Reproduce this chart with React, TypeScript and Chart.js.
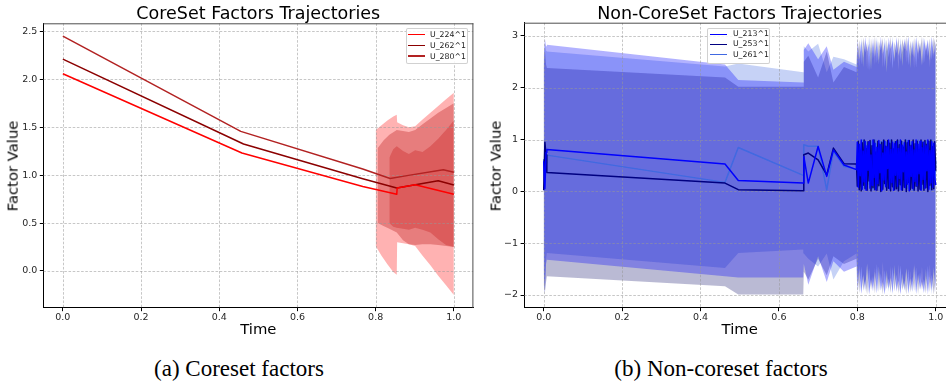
import React, { useEffect, useRef } from 'react';
import { Chart, registerables } from 'chart.js';

Chart.register(...registerables);

const SANS = '"DejaVu Sans", "Liberation Sans", sans-serif';
const SERIF = '"Liberation Serif", "Times New Roman", serif';

// ---------- ticks ----------
const X_TICKS = [0, 0.2, 0.4, 0.6, 0.8, 1.0];
const CORE_Y_TICKS = [0, 0.5, 1.0, 1.5, 2.0, 2.5];
const NONCORE_Y_TICKS = [-2, -1, 0, 1, 2, 3];

// ---------- (a) CoreSet factors ----------
const CORE_LABELS = ['U_224^1', 'U_262^1', 'U_280^1'];
const CORE_COLORS = ['#ff0000', '#8b0000', '#b22222'];
const CORE_FILLS = ['rgba(255,0,0,0.3)', 'rgba(139,0,0,0.3)', 'rgba(178,34,34,0.3)'];

const CORE_T_224 = [0, 0.458, 0.767, 0.854, 0.855, 0.901, 1.0];
const CORE_V_224 = [2.057, 1.23, 0.882, 0.80, 0.865, 0.90, 0.80];
const CORE_T_262 = [0, 0.462, 0.767, 0.854, 0.96, 1.0];
const CORE_V_262 = [2.21, 1.324, 0.962, 0.865, 0.94, 0.897];
const CORE_T_280 = [0, 0.455, 0.767, 0.837, 0.884, 0.973, 1.0];
const CORE_V_280 = [2.45, 1.456, 1.063, 0.965, 0.997, 1.056, 1.03];

const CORE_BAND_T_224 = [0.800, 0.815, 0.830, 0.845, 0.854, 0.855, 0.870, 0.885, 0.901, 0.920, 0.940, 0.960, 0.980, 1.000];
const CORE_BAND_HI_224 = [1.47, 1.52, 1.57, 1.61, 1.63, 1.55, 1.52, 1.50, 1.51, 1.58, 1.65, 1.72, 1.79, 1.86];
const CORE_BAND_LO_224 = [0.26, 0.16, 0.07, -0.01, -0.04, 0.30, 0.29, 0.28, 0.26, 0.16, 0.06, -0.05, -0.15, -0.25];

const CORE_BAND_T_262 = [0.805, 0.820, 0.835, 0.854, 0.870, 0.885, 0.901, 0.920, 0.940, 0.960, 0.980, 1.000];
const CORE_BAND_HI_262 = [1.28, 1.36, 1.42, 1.47, 1.46, 1.45, 1.47, 1.53, 1.59, 1.65, 1.70, 1.75];
const CORE_BAND_LO_262 = [0.50, 0.47, 0.44, 0.40, 0.32, 0.28, 0.27, 0.28, 0.28, 0.27, 0.26, 0.25];

const CORE_BAND_T_280 = [0.835, 0.845, 0.854, 0.870, 0.885, 0.901, 0.920, 0.940, 0.960, 0.980, 1.000];
const CORE_BAND_HI_280 = [1.18, 1.27, 1.30, 1.25, 1.22, 1.26, 1.24, 1.30, 1.38, 1.47, 1.57];
const CORE_BAND_LO_280 = [0.50, 0.46, 0.45, 0.44, 0.43, 0.45, 0.43, 0.40, 0.33, 0.27, 0.25];

// ---------- (b) Non-CoreSet factors ----------
const NC_LABELS = ['U_213^1', 'U_253^1', 'U_261^1'];
const NC_COLORS = ['#0000ff', '#000080', '#4169e1'];
const NC_FILLS = ['rgba(0,0,255,0.3)', 'rgba(25,25,112,0.3)', 'rgba(65,105,225,0.3)'];

const NC_T_SPARSE = [0.000, 0.003, 0.006, 0.008, 0.4625, 0.4964, 0.6622, 0.6635, 0.675, 0.700, 0.722, 0.739, 0.766, 0.798];
const NC_T_DENSE = [0.800, 0.805, 0.810, 0.815, 0.820, 0.825, 0.830, 0.835, 0.840, 0.845, 0.850, 0.855, 0.860, 0.865, 0.870, 0.875, 0.880, 0.885, 0.890, 0.895, 0.900, 0.905, 0.910, 0.915, 0.920, 0.925, 0.930, 0.935, 0.940, 0.945, 0.950, 0.955, 0.960, 0.965, 0.970, 0.975, 0.980, 0.985, 0.990, 0.995, 1.000];
const NC_T_DENSE_LINE = [
  0.8000, 0.8025, 0.8050, 0.8075, 0.8100, 0.8125, 0.8150, 0.8175, 0.8200, 0.8225,
  0.8250, 0.8275, 0.8300, 0.8325, 0.8350, 0.8375, 0.8400, 0.8425, 0.8450, 0.8475,
  0.8500, 0.8525, 0.8550, 0.8575, 0.8600, 0.8625, 0.8650, 0.8675, 0.8700, 0.8725,
  0.8750, 0.8775, 0.8800, 0.8825, 0.8850, 0.8875, 0.8900, 0.8925, 0.8950, 0.8975,
  0.9000, 0.9025, 0.9050, 0.9075, 0.9100, 0.9125, 0.9150, 0.9175, 0.9200, 0.9225,
  0.9250, 0.9275, 0.9300, 0.9325, 0.9350, 0.9375, 0.9400, 0.9425, 0.9450, 0.9475,
  0.9500, 0.9525, 0.9550, 0.9575, 0.9600, 0.9625, 0.9650, 0.9675, 0.9700, 0.9725,
  0.9750, 0.9775, 0.9800, 0.9825, 0.9850, 0.9875, 0.9900, 0.9925, 0.9950, 0.9975,
  1.0000];

const NC_V_213_S = [0.58, 0.05, 0.75, 0.81, 0.527, 0.212, 0.16, 0.674, 0.16, 0.867, 0.29, 0.80, 0.51, 0.42];
const NC_V_253_S = [0.02, 0.95, 0.70, 0.366, 0.161, 0.033, 0.013, 0.707, 0.74, 0.61, 0.32, 0.836, 0.534, 0.53];
const NC_V_261_S = [0.62, 0.10, 0.55, 0.70, 0.174, 0.848, 0.31, 0.90, 0.87, 0.87, 0.03, 0.77, 0.48, 0.43];

const NC_V_213_D = [
  0.95, 0.08, 0.91, 0.30, 0.99, 0.04, 0.78, 0.18, 0.97, 0.02,
  0.88, 0.41, 0.96, 0.06, 0.70, 0.12, 0.99, 0.27, 0.93, 0.03,
  0.85, 0.15, 0.98, 0.36, 0.90, 0.01, 0.74, 0.22, 0.97, 0.09,
  0.86, 0.44, 0.99, 0.05, 0.81, 0.17, 0.95, 0.02, 0.92, 0.31,
  0.97, 0.10, 0.83, 0.25, 0.99, 0.03, 0.89, 0.38, 0.94, 0.07,
  0.76, 0.14, 0.98, 0.01, 0.87, 0.29, 0.96, 0.05, 0.80, 0.19,
  0.99, 0.11, 0.91, 0.34, 0.97, 0.02, 0.84, 0.23, 0.95, 0.06,
  0.88, 0.40, 0.99, 0.04, 0.79, 0.16, 0.96, 0.08, 0.93, 0.27,
  0.12];
const NC_V_253_D = [
  0.10, 0.97, 0.03, 0.62, 0.01, 0.94, 0.12, 0.99, 0.05, 0.83,
  0.02, 0.96, 0.20, 0.98, 0.01, 0.88, 0.07, 0.99, 0.03, 0.76,
  0.02, 0.97, 0.11, 0.91, 0.00, 0.95, 0.04, 0.99, 0.15, 0.87,
  0.02, 0.98, 0.06, 0.93, 0.01, 0.99, 0.09, 0.82, 0.03, 0.96,
  0.05, 0.99, 0.01, 0.90, 0.13, 0.97, 0.02, 0.85, 0.08, 0.99,
  0.00, 0.94, 0.17, 0.98, 0.03, 0.89, 0.06, 0.99, 0.02, 0.92,
  0.10, 0.97, 0.01, 0.80, 0.04, 0.99, 0.14, 0.95, 0.02, 0.98,
  0.07, 0.91, 0.00, 0.97, 0.12, 0.99, 0.03, 0.86, 0.05, 0.96,
  0.40];
const NC_V_261_D = [
  0.55, 0.21, 0.86, 0.10, 0.93, 0.38, 0.99, 0.07, 0.80, 0.25,
  0.95, 0.14, 0.90, 0.33, 0.97, 0.05, 0.84, 0.19, 0.99, 0.28,
  0.92, 0.08, 0.87, 0.16, 0.96, 0.35, 0.98, 0.11, 0.79, 0.24,
  0.94, 0.06, 0.89, 0.30, 0.99, 0.13, 0.85, 0.20, 0.97, 0.09,
  0.91, 0.37, 0.98, 0.04, 0.83, 0.22, 0.96, 0.12, 0.88, 0.31,
  0.99, 0.06, 0.82, 0.26, 0.95, 0.15, 0.97, 0.02, 0.86, 0.34,
  0.93, 0.09, 0.99, 0.18, 0.81, 0.27, 0.96, 0.05, 0.90, 0.21,
  0.98, 0.13, 0.87, 0.36, 0.94, 0.03, 0.99, 0.17, 0.84, 0.24,
  0.60];

const NC_HI_213_S = [2.60, 2.95, 2.80, 2.83, 2.45, 2.15, 2.10, 2.73, 2.86, 2.55, 2.80, 2.35, 2.50, 2.40];
const NC_LO_213_S = [-1.50, -1.99, -1.40, -1.32, -1.64, -1.66, -1.66, -1.40, -1.80, -1.25, -1.75, -1.35, -1.55, -1.45];
const NC_HI_253_S = [2.40, 2.75, 2.45, 2.38, 2.20, 2.02, 2.02, 2.50, 2.62, 2.20, 2.70, 2.10, 2.40, 2.30];
const NC_LO_253_S = [-1.80, -1.95, -1.75, -1.64, -1.83, -1.99, -1.99, -1.55, -1.70, -1.30, -1.62, -1.25, -1.40, -1.30];
const NC_HI_261_S = [2.50, 2.85, 2.72, 2.70, 2.41, 2.47, 2.30, 2.80, 2.70, 2.85, 2.30, 2.60, 2.55, 2.45];
const NC_LO_261_S = [-1.60, -1.90, -1.30, -1.19, -1.48, -1.19, -1.12, -1.20, -1.30, -1.45, -1.20, -1.70, -1.35, -1.20];

const NC_HI_213_D = [2.95, 2.55, 2.90, 2.40, 2.98, 2.70, 2.85, 2.35, 2.96, 2.60, 2.92, 2.45, 2.99, 2.65, 2.88, 2.30, 2.97, 2.75, 2.91, 2.50, 2.98, 2.62, 2.86, 2.42, 2.95, 2.70, 2.99, 2.38, 2.90, 2.58, 2.97, 2.66, 2.87, 2.44, 2.96, 2.72, 2.93, 2.52, 2.98, 2.64, 2.90];
const NC_LO_213_D = [-1.95, -1.50, -1.98, -1.62, -1.90, -1.40, -1.99, -1.70, -1.93, -1.55, -1.97, -1.45, -1.92, -1.75, -1.99, -1.52, -1.88, -1.66, -1.96, -1.42, -1.94, -1.72, -1.99, -1.58, -1.91, -1.48, -1.97, -1.68, -1.93, -1.44, -1.98, -1.60, -1.90, -1.74, -1.96, -1.50, -1.99, -1.64, -1.92, -1.46, -1.95];
const NC_HI_253_D = [2.60, 2.92, 2.45, 2.97, 2.68, 2.88, 2.33, 2.95, 2.55, 2.99, 2.48, 2.90, 2.72, 2.96, 2.40, 2.93, 2.58, 2.99, 2.36, 2.89, 2.66, 2.97, 2.50, 2.94, 2.74, 2.98, 2.43, 2.91, 2.63, 2.96, 2.39, 2.92, 2.70, 2.99, 2.47, 2.88, 2.61, 2.95, 2.54, 2.97, 2.80];
const NC_LO_253_D = [-1.55, -1.96, -1.45, -1.92, -1.70, -1.99, -1.48, -1.90, -1.63, -1.97, -1.40, -1.94, -1.58, -1.99, -1.52, -1.89, -1.68, -1.96, -1.46, -1.93, -1.60, -1.98, -1.43, -1.91, -1.72, -1.99, -1.50, -1.95, -1.65, -1.92, -1.47, -1.98, -1.56, -1.90, -1.69, -1.97, -1.44, -1.94, -1.61, -1.99, -1.70];
const NC_HI_261_D = [2.78, 2.40, 2.96, 2.58, 2.91, 2.36, 2.99, 2.66, 2.87, 2.44, 2.98, 2.52, 2.93, 2.38, 2.97, 2.70, 2.89, 2.46, 2.99, 2.56, 2.94, 2.34, 2.96, 2.68, 2.90, 2.48, 2.98, 2.60, 2.92, 2.37, 2.99, 2.54, 2.88, 2.42, 2.97, 2.62, 2.91, 2.39, 2.98, 2.57, 2.85];
const NC_LO_261_D = [-1.80, -1.42, -1.97, -1.58, -1.93, -1.38, -1.99, -1.65, -1.88, -1.47, -1.96, -1.54, -1.91, -1.36, -1.98, -1.62, -1.94, -1.44, -1.99, -1.57, -1.90, -1.40, -1.97, -1.67, -1.92, -1.49, -1.99, -1.53, -1.95, -1.39, -1.98, -1.60, -1.89, -1.45, -1.96, -1.63, -1.93, -1.41, -1.99, -1.55, -1.85];

// ---------- helpers ----------
const pts = (xs: number[], ys: number[]) => xs.map((x, i) => ({ x, y: ys[i] }));

function lineSet(label: string, xs: number[], ys: number[], color: string, width = 1.5) {
  return {
    label, data: pts(xs, ys), borderColor: color, backgroundColor: color,
    borderWidth: width, pointRadius: 0, pointHoverRadius: 0, fill: false, tension: 0,
    borderJoinStyle: 'round',
  };
}

function bandSets(xs: number[], lo: number[], hi: number[], color: string) {
  return [
    { label: '_lo', data: pts(xs, lo), borderColor: 'rgba(0,0,0,0)', backgroundColor: 'rgba(0,0,0,0)', borderWidth: 0, pointRadius: 0, fill: false, tension: 0 },
    { label: '_hi', data: pts(xs, hi), borderColor: 'rgba(0,0,0,0)', backgroundColor: color, borderWidth: 0, pointRadius: 0, fill: '-1', tension: 0 },
  ];
}

const gridFramePlugin = {
  id: 'gridFrame',
  beforeDatasetsDraw(chart: any) {
    const { ctx, chartArea: a } = chart;
    const xs = chart.scales.x, ys = chart.scales.y;
    ctx.save();
    ctx.beginPath();
    ctx.rect(a.left, a.top, a.right - a.left, a.bottom - a.top);
    ctx.clip();
    ctx.strokeStyle = 'rgba(150,150,150,0.6)';
    ctx.lineWidth = 0.9;
    ctx.setLineDash([2.6, 1.6]);
    xs.ticks.forEach((t: any) => {
      const x = Math.round(xs.getPixelForValue(t.value)) + 0.5;
      ctx.beginPath(); ctx.moveTo(x, a.top); ctx.lineTo(x, a.bottom); ctx.stroke();
    });
    ys.ticks.forEach((t: any) => {
      const y = Math.round(ys.getPixelForValue(t.value)) + 0.5;
      ctx.beginPath(); ctx.moveTo(a.left, y); ctx.lineTo(a.right, y); ctx.stroke();
    });
    ctx.restore();
  },
  afterDatasetsDraw(chart: any) {
    const { ctx, chartArea: a } = chart;
    ctx.save();
    ctx.setLineDash([]);
    ctx.strokeStyle = '#4d4d4d';
    ctx.lineWidth = 1;
    ctx.beginPath();
    ctx.moveTo(a.left, a.top + 0.5); ctx.lineTo(a.right, a.top + 0.5);
    ctx.moveTo(a.right - 0.5, a.top); ctx.lineTo(a.right - 0.5, a.bottom);
    ctx.stroke();
    ctx.restore();
  },
};

function buildConfig(datasets: any[], yMin: number, yMax: number, yTicks: number[], yFmt: (v: number) => string, geom: any) {
  const tickFont = { family: SANS, size: 9.5 };
  return {
    type: 'line',
    data: { datasets },
    options: {
      responsive: false, maintainAspectRatio: false, animation: false, devicePixelRatio: 1,
      events: [],
      layout: { padding: { top: geom.top, right: geom.right, left: 0, bottom: 0 }, autoPadding: false },
      plugins: {
        legend: { display: false }, tooltip: { enabled: false }, title: { display: false },
        filler: { drawTime: 'beforeDatasetsDraw', propagate: false },
      },
      scales: {
        x: {
          type: 'linear', min: -0.05, max: 1.05,
          afterBuildTicks: (s: any) => { s.ticks = X_TICKS.map((v) => ({ value: v })); },
          afterFit: (s: any) => { s.height = geom.xh; },
          ticks: { callback: (v: any) => Number(v).toFixed(1), font: tickFont, color: '#262626', padding: 0.7, autoSkip: false, maxRotation: 0, minRotation: 0 },
          grid: { drawOnChartArea: false, drawTicks: true, tickLength: 3.5, tickColor: '#000', tickWidth: 1 },
          border: { display: true, color: '#000', width: 1 },
        },
        y: {
          type: 'linear', min: yMin, max: yMax,
          afterBuildTicks: (s: any) => { s.ticks = yTicks.map((v) => ({ value: v })); },
          afterFit: (s: any) => { s.width = geom.yw; },
          ticks: { callback: (v: any) => yFmt(Number(v)), font: tickFont, color: '#262626', padding: 2.5, autoSkip: false },
          grid: { drawOnChartArea: false, drawTicks: true, tickLength: 3.5, tickColor: '#000', tickWidth: 1 },
          border: { display: true, color: '#000', width: 1 },
        },
      },
    },
    plugins: [gridFramePlugin],
  };
}

function coreConfig() {
  const ds: any[] = [
    lineSet(CORE_LABELS[0], CORE_T_224, CORE_V_224, CORE_COLORS[0]),
    lineSet(CORE_LABELS[1], CORE_T_262, CORE_V_262, CORE_COLORS[1]),
    lineSet(CORE_LABELS[2], CORE_T_280, CORE_V_280, CORE_COLORS[2]),
    ...bandSets(CORE_BAND_T_224, CORE_BAND_LO_224, CORE_BAND_HI_224, CORE_FILLS[0]),
    ...bandSets(CORE_BAND_T_262, CORE_BAND_LO_262, CORE_BAND_HI_262, CORE_FILLS[1]),
    ...bandSets(CORE_BAND_T_280, CORE_BAND_LO_280, CORE_BAND_HI_280, CORE_FILLS[2]),
  ];
  return buildConfig(ds, -0.383, 2.583, CORE_Y_TICKS, (v) => v.toFixed(1),
    { top: 23.3, right: 6.6, yw: 43.3, xh: 22.3 });
}

function nonCoreConfig() {
  const TL = [...NC_T_SPARSE, ...NC_T_DENSE_LINE];
  const TB = [...NC_T_SPARSE, ...NC_T_DENSE];
  const ds: any[] = [
    lineSet(NC_LABELS[0], TL, [...NC_V_213_S, ...NC_V_213_D], NC_COLORS[0]),
    lineSet(NC_LABELS[1], TL, [...NC_V_253_S, ...NC_V_253_D], NC_COLORS[1]),
    lineSet(NC_LABELS[2], TL, [...NC_V_261_S, ...NC_V_261_D], NC_COLORS[2]),
    ...bandSets(TB, [...NC_LO_213_S, ...NC_LO_213_D], [...NC_HI_213_S, ...NC_HI_213_D], NC_FILLS[0]),
    ...bandSets(TB, [...NC_LO_253_S, ...NC_LO_253_D], [...NC_HI_253_S, ...NC_HI_253_D], NC_FILLS[1]),
    ...bandSets(TB, [...NC_LO_261_S, ...NC_LO_261_D], [...NC_HI_261_S, ...NC_HI_261_D], NC_FILLS[2]),
  ];
  return buildConfig(ds, -2.245, 3.256, NONCORE_Y_TICKS,
    (v) => (v < 0 ? '\u2212' + Math.abs(v) : String(v)),
    { top: 22.7, right: 4.7, yw: 44.1, xh: 22.3 });
}

function ChartCanvas({ left, width, height, make }: any) {
  const ref = useRef<HTMLCanvasElement>(null);
  useEffect(() => {
    const chart = new Chart(ref.current as any, make());
    return () => chart.destroy();
  }, []);
  return <canvas ref={ref} width={width} height={height}
    style={{ position: 'absolute', left, top: 0, width, height }} />;
}

function Txt({ x, baseline, size, family = SANS, ratio = 0.846, children }: any) {
  return (
    <div style={{
      position: 'absolute', left: x, top: baseline - ratio * size, fontSize: size,
      lineHeight: size + 'px', fontFamily: family, whiteSpace: 'nowrap',
      transform: 'translateX(-50%)', color: '#000',
    }}>{children}</div>
  );
}

function VTxt({ cx, cy, size, children }: any) {
  return (
    <div style={{
      position: 'absolute', left: cx, top: cy, fontSize: size, lineHeight: size + 'px',
      fontFamily: SANS, whiteSpace: 'nowrap', color: '#000',
      transform: 'translate(-50%,-50%) rotate(-90deg)',
    }}>{children}</div>
  );
}

function Legend({ left, top, width, height, rowH, swL, swR, items }: any) {
  return (
    <div style={{
      position: 'absolute', left, top, width, height, boxSizing: 'border-box',
      border: '1px solid rgba(204,204,204,0.9)', borderRadius: 2,
      background: 'rgba(255,255,255,0.85)',
    }}>
      {items.map((it: any) => (
        <div key={it.label} style={{ display: 'flex', alignItems: 'center', height: rowH }}>
          <span style={{ display: 'inline-block', width: 17, marginLeft: swL, marginRight: swR, borderTop: `${it.w}px solid ${it.color}` }} />
          <span style={{ fontSize: 7.8, fontFamily: SANS, lineHeight: rowH + 'px', color: '#222' }}>{it.label}</span>
        </div>
      ))}
    </div>
  );
}

export default function App() {
  const coreItems = CORE_LABELS.map((l, i) => ({ label: l, color: CORE_COLORS[i], w: i === 2 ? 2 : 1.5 }));
  const ncItems = NC_LABELS.map((l, i) => ({ label: l, color: NC_COLORS[i], w: 1.5 }));
  return (
    <div style={{ position: 'absolute', left: 0, top: 0, width: 946, height: 383, overflow: 'hidden', background: '#fff' }}>
      <ChartCanvas left={0} width={480} height={330} make={coreConfig} />
      <ChartCanvas left={480} width={480} height={330} make={nonCoreConfig} />

      <Txt x={258.3} baseline={20} size={17.5}>CoreSet Factors Trajectories</Txt>
      <Txt x={739.7} baseline={20} size={17.5}>Non-CoreSet Factors Trajectories</Txt>
      <Txt x={258.3} baseline={335} size={14.8}>Time</Txt>
      <Txt x={739.7} baseline={335} size={14.8}>Time</Txt>
      <VTxt cx={12.7} cy={165.5} size={14.8}>Factor Value</VTxt>
      <VTxt cx={495.7} cy={165.5} size={14.8}>Factor Value</VTxt>

      <Legend left={405.7} top={27.8} width={62.6} height={36.7} rowH={11} swL={1.6} swR={4.7} items={coreItems} />
      <Legend left={707} top={28} width={63} height={35.5} rowH={10.3} swL={2.3} swR={5.6} items={ncItems} />

      <Txt x={239} baseline={376.5} size={23} family={SERIF} ratio={0.8375}>(a) Coreset factors</Txt>
      <Txt x={721} baseline={376.5} size={23} family={SERIF} ratio={0.8375}>(b) Non-coreset factors</Txt>
    </div>
  );
}
